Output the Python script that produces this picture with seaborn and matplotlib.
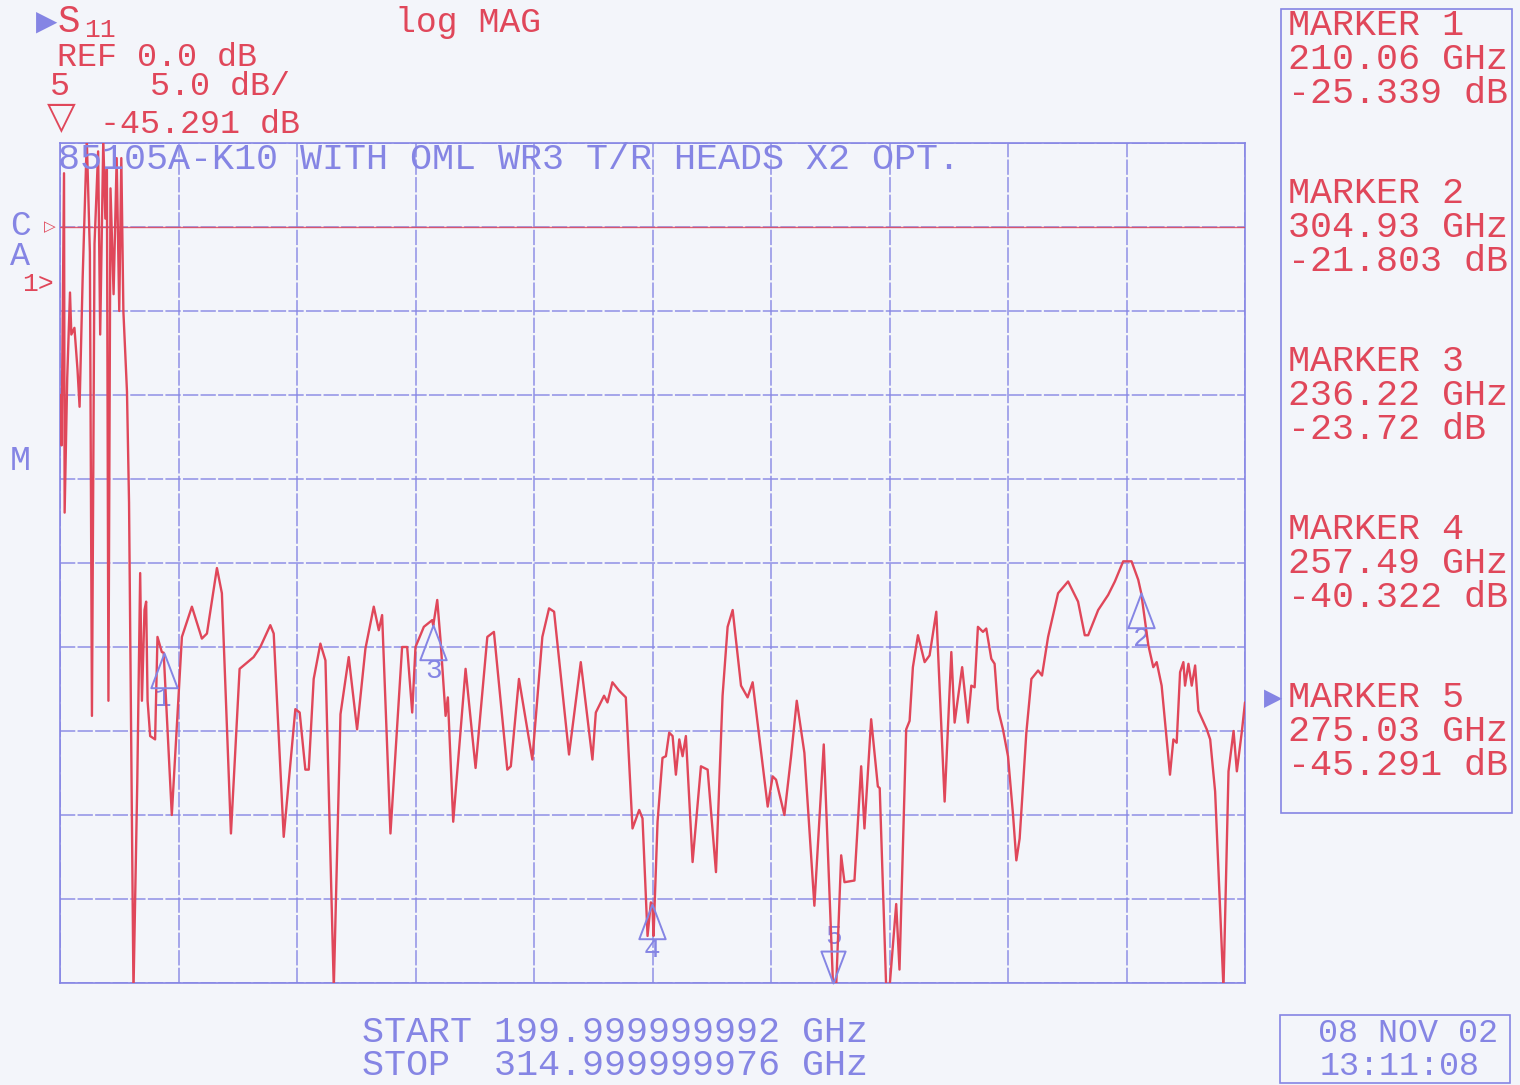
import numpy as np
import pandas as pd
import matplotlib
matplotlib.use("Agg")
import matplotlib.pyplot as plt
from matplotlib.path import Path
from matplotlib.patches import Rectangle
import seaborn as sns

# ---------------- data ----------------
freq_ghz = [
    200.05, 200.15, 200.39, 200.45, 200.70, 200.97, 201.10, 201.40, 201.70, 201.90,
    202.20, 202.60, 202.90, 203.10, 203.35, 203.70, 203.90, 204.20, 204.40, 204.55,
    204.70, 204.90, 205.20, 205.50, 205.75, 205.95, 206.15, 206.50, 206.70, 207.13,
    207.50, 207.78, 207.95, 208.20, 208.36, 208.50, 208.75, 209.23, 209.46, 209.88,
    210.06, 210.85, 211.83, 212.80, 213.77, 214.26, 215.23, 215.71, 216.59, 217.43,
    218.79, 219.44, 220.41, 220.74, 221.71, 222.84, 223.26, 223.81, 224.14, 224.62,
    225.27, 225.76, 226.57, 227.22, 228.02, 228.83, 229.64, 230.45, 230.94, 231.26,
    232.07, 233.20, 233.69, 234.18, 234.50, 235.31, 236.12, 236.22, 236.61, 236.93,
    237.42, 237.64, 238.16, 239.36, 240.33, 241.47, 242.11, 243.41, 243.75, 244.54,
    245.84, 246.81, 247.46, 247.95, 249.40, 250.54, 251.67, 252.00, 252.80, 253.13,
    253.61, 254.26, 254.91, 255.56, 256.21, 256.53, 257.02, 257.34, 257.49, 257.60,
    257.99, 258.47, 258.80, 259.12, 259.45, 259.77, 260.10, 260.42, 260.74, 261.39,
    262.20, 262.85, 263.66, 264.30, 264.79, 265.28, 266.09, 266.73, 267.22, 268.68,
    269.16, 269.49, 270.30, 270.95, 271.50, 272.24, 273.21, 274.12, 275.03, 275.32,
    275.81, 276.13, 277.10, 277.75, 278.07, 278.72, 279.37, 279.55, 280.18, 280.50,
    281.15, 281.47, 282.12, 282.45, 282.77, 283.26, 283.91, 284.39, 285.04, 285.85,
    286.50, 286.82, 287.55, 288.11, 288.44, 288.76, 289.08, 289.57, 289.89, 290.38,
    290.70, 291.03, 291.51, 292.00, 292.49, 292.81, 293.13, 293.78, 294.27, 294.92,
    295.30, 295.89, 296.86, 297.83, 298.80, 299.45, 299.78, 300.75, 301.72, 302.37,
    303.18, 303.99, 304.64, 304.93, 305.62, 306.10, 306.43, 306.91, 307.72, 308.05,
    308.37, 308.70, 309.02, 309.18, 309.51, 309.83, 310.16, 310.48, 311.29, 311.62,
    312.10, 312.91, 313.40, 313.89, 314.21, 314.70, 315.00,
]
s11_db = [
    -10.0, -13.0, 3.2, -17.0, -9.0, -3.9, -6.4, -6.0, -8.5, -10.7,
    -3.0, 5.2, -1.5, -29.1, -1.0, 4.5, -6.4, 5.2, 0.5, 3.5,
    -28.2, 2.3, -4.0, 4.1, -5.0, 4.1, -5.0, -9.8, -16.4, -45.5,
    -33.0, -20.6, -28.2, -22.8, -22.3, -28.2, -30.3, -30.5, -24.4, -25.3,
    -25.34, -35.0, -24.4, -22.6, -24.5, -24.2, -20.3, -21.8, -36.1, -26.3,
    -25.6, -25.0, -23.7, -24.2, -36.3, -28.7, -28.9, -32.3, -32.3, -26.9,
    -24.8, -25.8, -45.3, -29.0, -25.6, -29.9, -25.1, -22.6, -24.0, -23.1,
    -36.1, -25.0, -25.0, -28.9, -25.0, -23.8, -23.4, -23.72, -22.2, -24.6,
    -29.1, -28.0, -35.4, -26.3, -32.2, -24.4, -24.1, -32.3, -32.1, -26.9,
    -31.7, -24.4, -22.7, -22.9, -31.4, -25.9, -31.7, -28.9, -27.9, -28.3,
    -27.1, -27.6, -28.0, -35.8, -34.7, -35.2, -42.2, -40.2, -40.32, -42.2,
    -35.4, -31.6, -31.5, -30.1, -30.3, -32.6, -30.5, -31.5, -30.3, -37.8,
    -32.1, -32.3, -38.4, -27.9, -23.8, -22.8, -27.3, -28.0, -27.1, -34.5,
    -32.7, -32.9, -35.0, -31.5, -28.2, -31.3, -40.4, -30.8, -45.29, -45.3,
    -37.4, -39.0, -38.9, -32.1, -35.8, -29.3, -33.3, -33.4, -45.3, -45.3,
    -40.3, -44.2, -29.9, -29.4, -26.2, -24.3, -25.9, -25.5, -22.9, -34.2,
    -25.3, -29.5, -26.2, -29.5, -27.3, -27.4, -23.8, -24.1, -23.9, -25.7,
    -26.0, -28.7, -29.9, -31.5, -35.0, -37.7, -36.4, -30.1, -26.9, -26.4,
    -26.7, -24.4, -21.8, -21.1, -22.3, -24.3, -24.3, -22.8, -21.9, -21.1,
    -19.9, -19.9, -21.0, -21.8, -24.9, -26.2, -25.9, -27.3, -32.6, -30.5,
    -30.7, -26.5, -25.9, -27.3, -26.0, -27.3, -26.1, -28.8, -29.9, -30.5,
    -33.6, -45.3, -32.4, -30.0, -32.4, -30.0, -28.3,
]

marker_ids = ["1", "2", "3", "4", "5"]
marker_freq = [210.06, 304.93, 236.22, 257.49, 275.03]
marker_db = [-25.339, -21.803, -23.72, -40.322, -45.291]
marker_freq_txt = ["210.06 GHz", "304.93 GHz", "236.22 GHz", "257.49 GHz", "275.03 GHz"]
marker_db_txt = ["-25.339 dB", "-21.803 dB", "-23.72 dB", "-40.322 dB", "-45.291 dB"]
active_marker = "5"

start_ghz, stop_ghz = 199.999999992, 314.999999976
ref_db, scale_db = 0.0, 5.0
n_div = 10
title_txt = "85105A-K10 WITH OML WR3 T/R HEADS X2 OPT."
date_txt = "08 NOV 02"
time_txt = "13:11:08"

# ---------------- style ----------------
PAPER = "#f3f5fa"
RED = "#e0475a"
BLUE = "#8585e4"
MONO = ["Liberation Mono", "DejaVu Sans Mono", "DejaVu Sans"]
SYM = ["DejaVu Sans"]

sns.set_style("white", {"axes.facecolor": PAPER, "figure.facecolor": PAPER})
plt.rcParams["font.family"] = MONO

W, H = 1520, 1085
fig = plt.figure(figsize=(W / 100, H / 100), dpi=100)
fig.patch.set_facecolor(PAPER)

L, R, T, B = 60, 1245, 143, 983
ax = fig.add_axes([L / W, 1 - B / H, (R - L) / W, (B - T) / H])
ax.set_facecolor(PAPER)

ymax = ref_db + 1 * scale_db
ymin = ref_db - (n_div - 1) * scale_db
ax.set_xlim(round(start_ghz, 3), round(stop_ghz, 3))
ax.set_ylim(ymin, ymax)
ax.set_xticks(np.linspace(round(start_ghz), round(stop_ghz), n_div + 1))
ax.set_yticks(np.linspace(ymin, ymax, n_div + 1))
ax.tick_params(length=0, labelbottom=False, labelleft=False)
ax.grid(True, color=BLUE, lw=1.1, ls=(0, (10, 1.5)), alpha=0.9)
for s in ax.spines.values():
    s.set_color(BLUE)
    s.set_linewidth(1.2)

# reference line
ax.axhline(ref_db, color=RED, lw=1.0, alpha=0.85, zorder=3)

df = pd.DataFrame({"freq": freq_ghz, "db": s11_db})
sns.lineplot(data=df, x="freq", y="db", ax=ax, color=RED, lw=1.7,
             sort=False, estimator=None, zorder=4)
ax.set_xlabel("")
ax.set_ylabel("")

# marker triangles
up_tri = Path([(0, 0), (-0.38, -1), (0.38, -1), (0, 0)],
              [Path.MOVETO, Path.LINETO, Path.LINETO, Path.CLOSEPOLY])
down_tri = Path([(0, 0), (-0.38, 1), (0.38, 1), (0, 0)],
                [Path.MOVETO, Path.LINETO, Path.LINETO, Path.CLOSEPOLY])
for mid, mf, md in zip(marker_ids, marker_freq, marker_db):
    yv = max(md, ymin)
    if mid == active_marker:
        ax.plot([mf], [yv], marker=down_tri, ms=46, mfc="none", mec=BLUE,
                mew=1.4, ls="none", zorder=5, clip_on=False)
        ax.annotate(mid, (mf, yv), xytext=(0, 33), textcoords="offset points",
                    ha="center", va="center", color=BLUE, fontsize=20,
                    annotation_clip=False)
    else:
        ax.plot([mf], [yv], marker=up_tri, ms=50, mfc="none", mec=BLUE,
                mew=1.4, ls="none", zorder=5)
        ax.annotate(mid, (mf, yv), xytext=(0, -33), textcoords="offset points",
                    ha="center", va="center", color=BLUE, fontsize=20)


def ftext(x, y, s, color, size=26, ha="left", family=MONO, va="baseline", **kw):
    fig.text(x / W, 1 - y / H, s, color=color, fontsize=size, ha=ha,
             va=va, family=family, **kw)


# header
ftext(36, 30, "▶", BLUE, size=20, family=SYM)
ftext(58, 32, "S", RED, size=27)
ftext(84, 37, "11", RED, size=19)
ftext(395, 32, "log MAG", RED, size=25)
ftext(57, 66, f"REF {ref_db:.1f} dB", RED, size=24)
ftext(50, 95, f"{active_marker}    {scale_db:.1f} dB/", RED, size=24)
ftext(47, 128, "▽", RED, size=27, family=SYM)
ftext(100, 133, marker_db_txt[marker_ids.index(active_marker)], RED, size=24)

# title inside plot
ftext(58, 169, title_txt, BLUE, size=26.5)

# left channel annotations
ftext(10, 235, "C", BLUE, size=25)
ftext(44, 231, "▷", RED, size=11, family=SYM)
ftext(10, 265, "A", BLUE, size=24)
ftext(22, 291, "1>", RED, size=19)
ftext(10, 470, "M", BLUE, size=25)

# marker listing box
fig.patches.append(Rectangle((1281 / W, 1 - 813 / H), (1512 - 1281) / W, (813 - 9) / H,
                             transform=fig.transFigure, fill=False, ec=BLUE, lw=1.2))
for i, mid in enumerate(marker_ids):
    yy = 35 + i * 168
    ftext(1288, yy, f"MARKER {mid}", RED, size=26.5)
    ftext(1288, yy + 34, marker_freq_txt[i], RED, size=26.5)
    ftext(1288, yy + 68, marker_db_txt[i], RED, size=26.5)
    if mid == active_marker:
        ftext(1264, yy - 2, "▶", BLUE, size=17, family=SYM)

# bottom start/stop
ftext(362, 1042, f"START {start_ghz:.9f} GHz", BLUE, size=26.5)
ftext(362, 1075, f"STOP  {stop_ghz:.9f} GHz", BLUE, size=26.5)

# date box
fig.patches.append(Rectangle((1280 / W, 1 - 1083 / H), (1510 - 1280) / W, (1083 - 1015) / H,
                             transform=fig.transFigure, fill=False, ec=BLUE, lw=1.2))
ftext(1408, 1042, date_txt, BLUE, size=24, ha="center")
ftext(1400, 1075, time_txt, BLUE, size=24, ha="center")

fig.savefig("out.png", dpi=100, facecolor=PAPER)
